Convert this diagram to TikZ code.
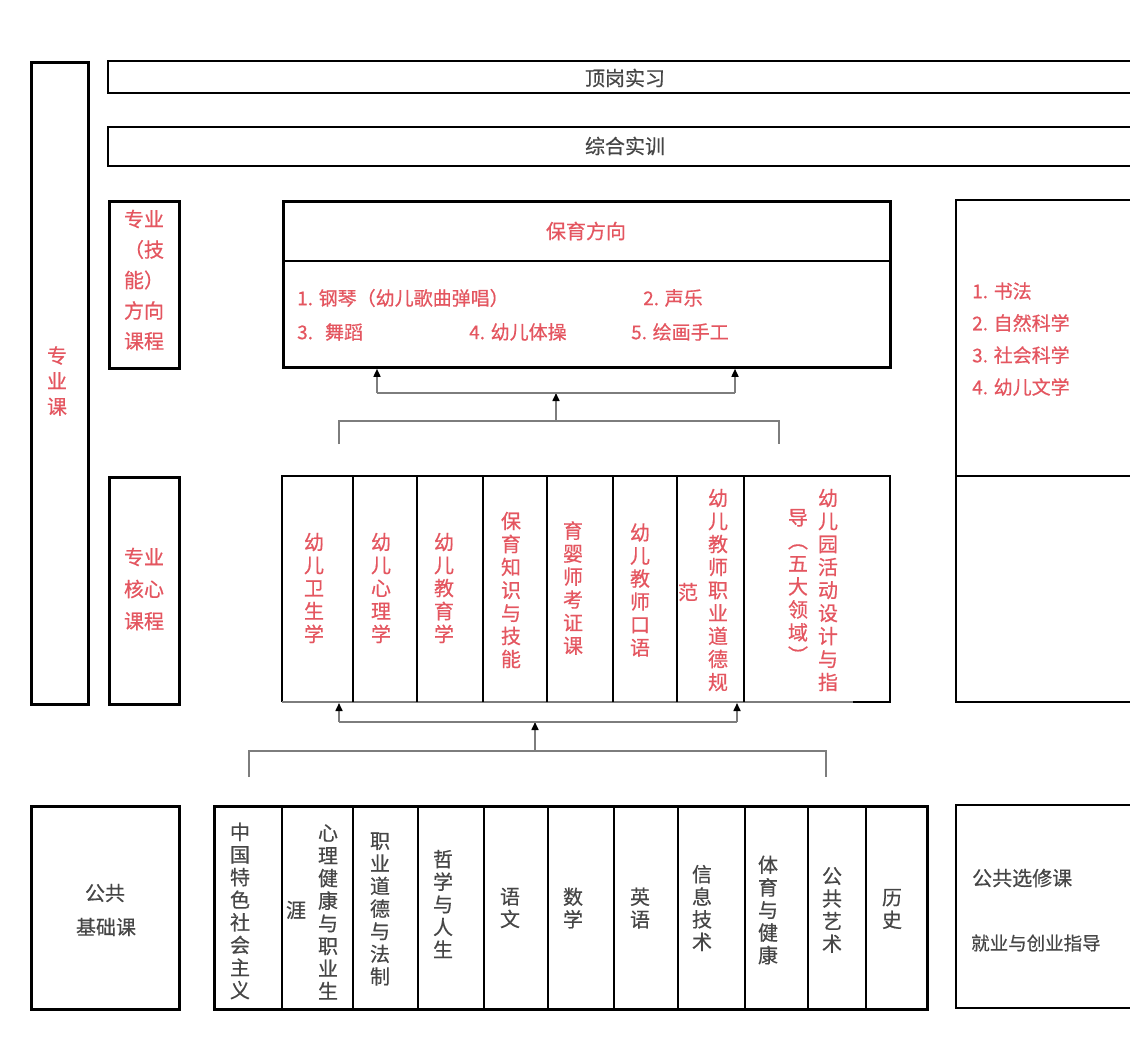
\documentclass[tikz,border=0pt]{standalone}
\usepackage{fontspec}
\setmainfont{Liberation Serif}
\newfontfamily\cjk[FakeBold=0.5]{Noto Sans CJK SC}
\usetikzlibrary{arrows.meta}
\definecolor{rtxt}{RGB}{228,86,96}
\definecolor{gtxt}{RGB}{70,70,70}
\definecolor{lgray}{RGB}{125,125,125}
\begin{document}
\begin{tikzpicture}[x=1pt,y=-1pt,
  box/.style={line width=2.8pt, draw=black},
  conn/.style={line width=1.6pt, draw=lgray},
  arr/.style={conn, -{Triangle[length=8pt,width=7pt,color=black]}},
  rt/.style={text=rtxt, inner sep=0pt, align=center, font=\cjk\fontsize{20}{30.5}\selectfont},
  rl/.style={text=rtxt, inner sep=0pt, anchor=west, font=\cjk\fontsize{19}{22}\selectfont},
  rv/.style={text=rtxt, inner sep=0pt, align=center, font=\cjk\fontsize{20}{23}\selectfont},
  gv/.style={text=gtxt, inner sep=0pt, align=center, font=\cjk\fontsize{20}{22.6}\selectfont},
  gl/.style={text=gtxt, inner sep=0pt, font=\cjk\fontsize{20}{24}\selectfont},
]
\useasboundingbox (0,0) rectangle (1130,1044);
\fill[white] (0,0) rectangle (1130,1044);

% ---------- frames ----------
\node[box, anchor=north west, inner sep=0pt, minimum width=57pt, minimum height=642pt] (zykbox) at (30,61) {};
\draw[box] (1131,61) -| (108,93) -- (1131,93);
\draw[box] (1131,127) -| (108,166) -- (1131,166);
\node[box, anchor=north west, inner sep=0pt, minimum width=70pt, minimum height=167pt] (fxbox) at (108,200) {};
\node[box, anchor=north west, inner sep=0pt, minimum width=607pt, minimum height=166pt] (bybox) at (282,200) {};
\draw[box] (bybox.west |- 0,261) -- (bybox.east |- 0,261);
\draw[box] (1131,200) -| (956,702) -- (1131,702);
\draw[box] (956,476) -- (1131,476);
\node[box, anchor=north west, inner sep=0pt, minimum width=70pt, minimum height=227pt] (hxbox) at (108,476) {};

% core courses frame
\draw[box] (282,702) |- (890,476) -- (890,702) -- (853,702);
\draw[conn, line width=1.2pt] (282,702) -- (853,702);
\foreach \x in {353,417,483,547,613,677,744}
  \draw[box] (\x,476) -- (\x,702);

% bottom frames
\node[box, anchor=north west, inner sep=0pt, minimum width=148pt, minimum height=203pt] (jcbox) at (30,805) {};
\node[box, anchor=north west, inner sep=0pt, minimum width=713pt, minimum height=203pt] (ggbox) at (213,805) {};
\foreach \x in {282,353,418,484,548,614,678,745,808,866}
  \draw[box] (\x,805) -- (\x,1008);
\draw[box] (1131,805) -| (956,1008) -- (1131,1008);

% ---------- texts ----------
\node[gl] (dg) at (625,78) {顶岗实习};
\node[gl] (zh) at (625,146) {综合实训};
\node[rt, font=\cjk\fontsize{20}{25.5}\selectfont] (zyk) at (57,381) {专\\业\\课};
\node[rt] (fx) at (144,280) {专业\\（技\\能）\\方向\\课程};
\node[rt, font=\cjk\fontsize{20}{32}\selectfont] (hx) at (144,589) {专业\\核心\\课程};

\node[text=rtxt, inner sep=0pt, font=\cjk\fontsize{20}{24}\selectfont] (byfx) at (586,231) {保育方向};
\node[rl] (i1) at (297,298) {1. 钢琴（幼儿歌曲弹唱）};
\node[rl] (i2) at (643,298) {2. 声乐};
\node[rl] (i3) at (297,332) {3.\hspace{12pt}舞蹈};
\node[rl] (i4) at (469,332) {4. 幼儿体操};
\node[rl] (i5) at (631,332) {5. 绘画手工};

\node[rl] (r1) at (972,291) {1. 书法};
\node[rl] (r2) at (972,323) {2. 自然科学};
\node[rl] (r3) at (972,355) {3. 社会科学};
\node[rl] (r4) at (972,387) {4. 幼儿文学};

% core course columns
\node[rv] (c1) at (314,588) {幼\\儿\\卫\\生\\学};
\node[rv] (c2) at (381,588) {幼\\儿\\心\\理\\学};
\node[rv] (c3) at (444,588) {幼\\儿\\教\\育\\学};
\node[rv] (c4) at (511,590) {保\\育\\知\\识\\与\\技\\能};
\node[rv] (c5) at (573,588) {育\\婴\\师\\考\\证\\课};
\node[rv] (c6) at (640,590) {幼\\儿\\教\\师\\口\\语};
\node[rv] (c7) at (718,590) {幼\\儿\\教\\师\\职\\业\\道\\德\\规};
\node[rv] (c7b) at (688,592) {范};
\node[rv] (c8) at (828,590) {幼\\儿\\园\\活\\动\\设\\计\\与\\指};
\node[rv] (c8b) at (798,586) {导\\︵\\五\\大\\领\\域\\︶};

% public courses
\node[gl] (jc1) at (105,893) {公共};
\node[gl] (jc2) at (106,927) {基础课};
\node[gv] (p1) at (240,911) {中\\国\\特\\色\\社\\会\\主\\义};
\node[gv] (p2) at (328,912) {心\\理\\健\\康\\与\\职\\业\\生};
\node[gv] (p2b) at (296,910) {涯};
\node[gv] (p3) at (380,909) {职\\业\\道\\德\\与\\法\\制};
\node[gv] (p4) at (443,904) {哲\\学\\与\\人\\生};
\node[gv] (p5) at (510,908) {语\\文};
\node[gv] (p6) at (573,908) {数\\学};
\node[gv] (p7) at (640,908) {英\\语};
\node[gv] (p8) at (702,908) {信\\息\\技\\术};
\node[gv] (p9) at (768,910) {体\\育\\与\\健\\康};
\node[gv] (p10) at (832,910) {公\\共\\艺\\术};
\node[gv] (p11) at (892,909) {历\\史};
\node[gl, anchor=west] (xx1) at (972,878) {公共选修课};
\node[gl, anchor=west, font=\cjk\fontsize{18.5}{22}\selectfont] (xx2) at (971,943) {就业与创业指导};

% ---------- connectors ----------
% upper group: core -> 保育方向
\coordinate (u1l) at (339,444);
\coordinate (u1r) at (779,444);
\coordinate (u1c) at (556,421);
\coordinate (u2c) at (556,393);
\coordinate (u2l) at (377,393);
\coordinate (u2r) at (735,393);
\draw[conn] (u1l) |- (u1c) -| (u1r);
\draw[arr] (u1c) -- (u2c);
\draw[conn] (u2l) -- (u2r);
\draw[arr] (u2l) -- (u2l |- bybox.south);
\draw[arr] (u2r) -- (u2r |- bybox.south);

% lower group: public -> core
\coordinate (l1l) at (249,777);
\coordinate (l1r) at (826,777);
\coordinate (l1c) at (535,751);
\coordinate (l2c) at (535,722);
\coordinate (l2l) at (339,722);
\coordinate (l2r) at (737,722);
\coordinate (corebot) at (535,703);
\draw[conn] (l1l) |- (l1c) -| (l1r);
\draw[arr] (l1c) -- (l2c);
\draw[conn] (l2l) -- (l2r);
\draw[arr] (l2l) -- (l2l |- corebot);
\draw[arr] (l2r) -- (l2r |- corebot);
\end{tikzpicture}
\end{document}
